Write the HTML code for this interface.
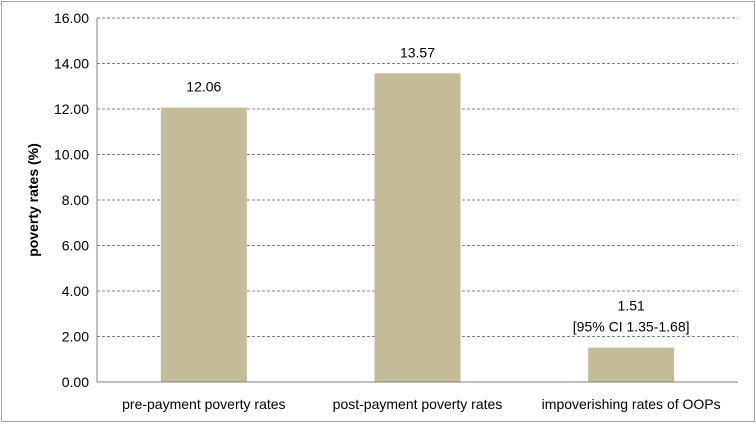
<!DOCTYPE html>
<html><head><meta charset="utf-8"><style>
body{margin:0;background:#fff;}
svg text{font-family:"Liberation Sans",sans-serif;fill:#000;}
</style></head><body>
<svg width="756" height="423">
<rect x="1.5" y="1.5" width="753" height="420" fill="#fff" stroke="#a6a6a6"/>
<g id="grid"></g><g id="bars"></g><g id="labels"></g>
<line x1="97" y1="18" x2="97" y2="382" stroke="#808080"/>
<line x1="97" y1="382" x2="738" y2="382" stroke="#808080"/>
<text transform="translate(38,200) rotate(-90)" text-anchor="middle" font-size="14" font-weight="bold">poverty  rates (%)</text>
</svg>
<script>
const categories=["pre-payment poverty rates","post-payment poverty rates","impoverishing rates of OOPs"];
const values=[12.06,13.57,1.51];
const valueLabels=[["12.06"],["13.57"],["1.51","[95% CI 1.35-1.68]"]];
const ticks=[0,2,4,6,8,10,12,14,16];
const ns="http://www.w3.org/2000/svg";
const L=97,R=738,T=18,B=382,max=16;
const y=v=>B-(B-T)*v/max;
const bw=(R-L)/categories.length;
const cx=i=>L+bw*(i+0.5);
function mk(t,a,p){const e=document.createElementNS(ns,t);for(const k in a)e.setAttribute(k,a[k]);document.getElementById(p).appendChild(e);return e;}
ticks.forEach(t=>{
 if(t>0){const l=mk('line',{x1:L,x2:R,y1:y(t),y2:y(t),stroke:'#808080','stroke-dasharray':'3,2'},'grid');
 
 }
 const tx=mk('text',{x:L-8,y:y(t)+5,'text-anchor':'end','font-size':'14'},'grid');tx.textContent=t.toFixed(2);
 
 
});
categories.forEach((c,i)=>{
 const r=mk('rect',{x:cx(i)-43,width:86,y:y(values[i]),height:B-y(values[i]),fill:'#c4bc98'},'bars');
 
 
 const lab=valueLabels[i];
 lab.forEach((s,j)=>{const t=mk('text',{x:cx(i),y:y(values[i])-16-(lab.length-1-j)*21,'text-anchor':'middle','font-size':'14'},'labels');t.textContent=s;
 
 });
 const xt=mk('text',{x:cx(i),y:409,'text-anchor':'middle','font-size':'14'},'labels');xt.textContent=c;
 
 
});
</script>
</body></html>
